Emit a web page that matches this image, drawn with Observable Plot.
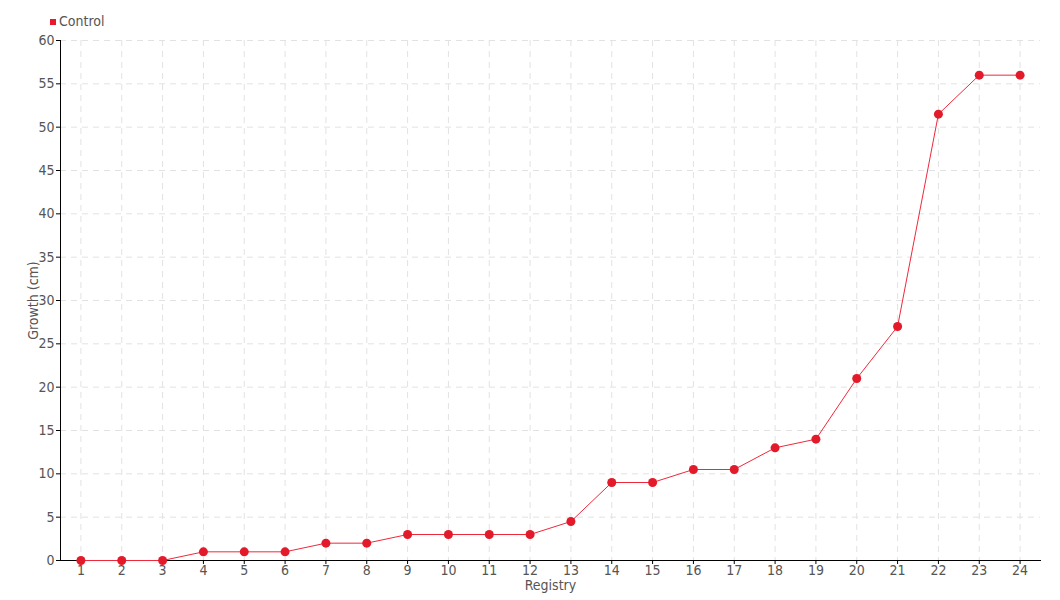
<!DOCTYPE html>
<html>
<head>
<meta charset="utf-8">
<script src="https://cdn.jsdelivr.net/npm/d3@7"></script>
<script src="https://cdn.jsdelivr.net/npm/@observablehq/plot@0.6"></script>
<style>
  body { margin: 0; background: #fff; font-family: "DejaVu Sans Condensed", sans-serif; }
  #legend { height: 30px; position: relative; font-size: 14px; color: #555; }
  #legend .sw { position: absolute; left: 50px; top: 19px; width: 6px; height: 6px; background: #e8192c; }
  #legend .lb { position: absolute; left: 59px; top: 13px; }
</style>
</head>
<body>
<div id="legend"><span class="sw"></span><span class="lb">Control</span></div>
<div id="chart"></div>
<script>
const registry = [1,2,3,4,5,6,7,8,9,10,11,12,13,14,15,16,17,18,19,20,21,22,23,24];
const growth = [0,0,0,1,1,1,2,2,3,3,3,3,4.5,9,9,10.5,10.5,13,14,21,27,51.5,56,56];
const yTicks = [0,5,10,15,20,25,30,35,40,45,50,55,60];

const data = registry.map((r, i) => ({registry: r, growth: growth[i]}));

const chart = Plot.plot({
  width: 1060,
  height: 570,
  marginTop: 10,
  marginBottom: 40,
  marginLeft: 60,
  marginRight: 20,
  style: {fontFamily: '"DejaVu Sans Condensed", sans-serif', fontSize: "14px", color: "#555"},
  x: {type: "linear", domain: [0.5, 24.5], label: null},
  y: {domain: [0, 60], ticks: yTicks, label: null},
  marks: [
    Plot.gridX(registry, {stroke: "#e2e2e2", strokeOpacity: 1, strokeDasharray: "6,5"}),
    Plot.gridY(yTicks, {stroke: "#e2e2e2", strokeOpacity: 1, strokeDasharray: "6,5"}),
    Plot.axisY(yTicks, {tickSize: 4, tickPadding: 2, stroke: "#000", fill: "#555", fontSize: 14}),
    Plot.axisX(registry, {tickSize: 4, tickPadding: 1, stroke: "#000", fill: "#555", fontSize: 14}),
    Plot.frame({anchor: "left", stroke: "#000"}),
    Plot.frame({anchor: "bottom", stroke: "#000"}),
    Plot.line(data, {x: "registry", y: "growth", stroke: "#f0283c", strokeWidth: 1}),
    Plot.dot(data, {x: "registry", y: "growth", r: 4.5, fill: "#e31a2a", stroke: "none"}),
    Plot.text(["Registry"], {frameAnchor: "bottom", dy: 29, fill: "#555", fontSize: 14}),
    Plot.text(["Growth (cm)"], {frameAnchor: "left", textAnchor: "middle", dx: -27, rotate: -90, fill: "#555", fontSize: 14})
  ]
});
document.getElementById("chart").appendChild(chart);
</script>
</body>
</html>
